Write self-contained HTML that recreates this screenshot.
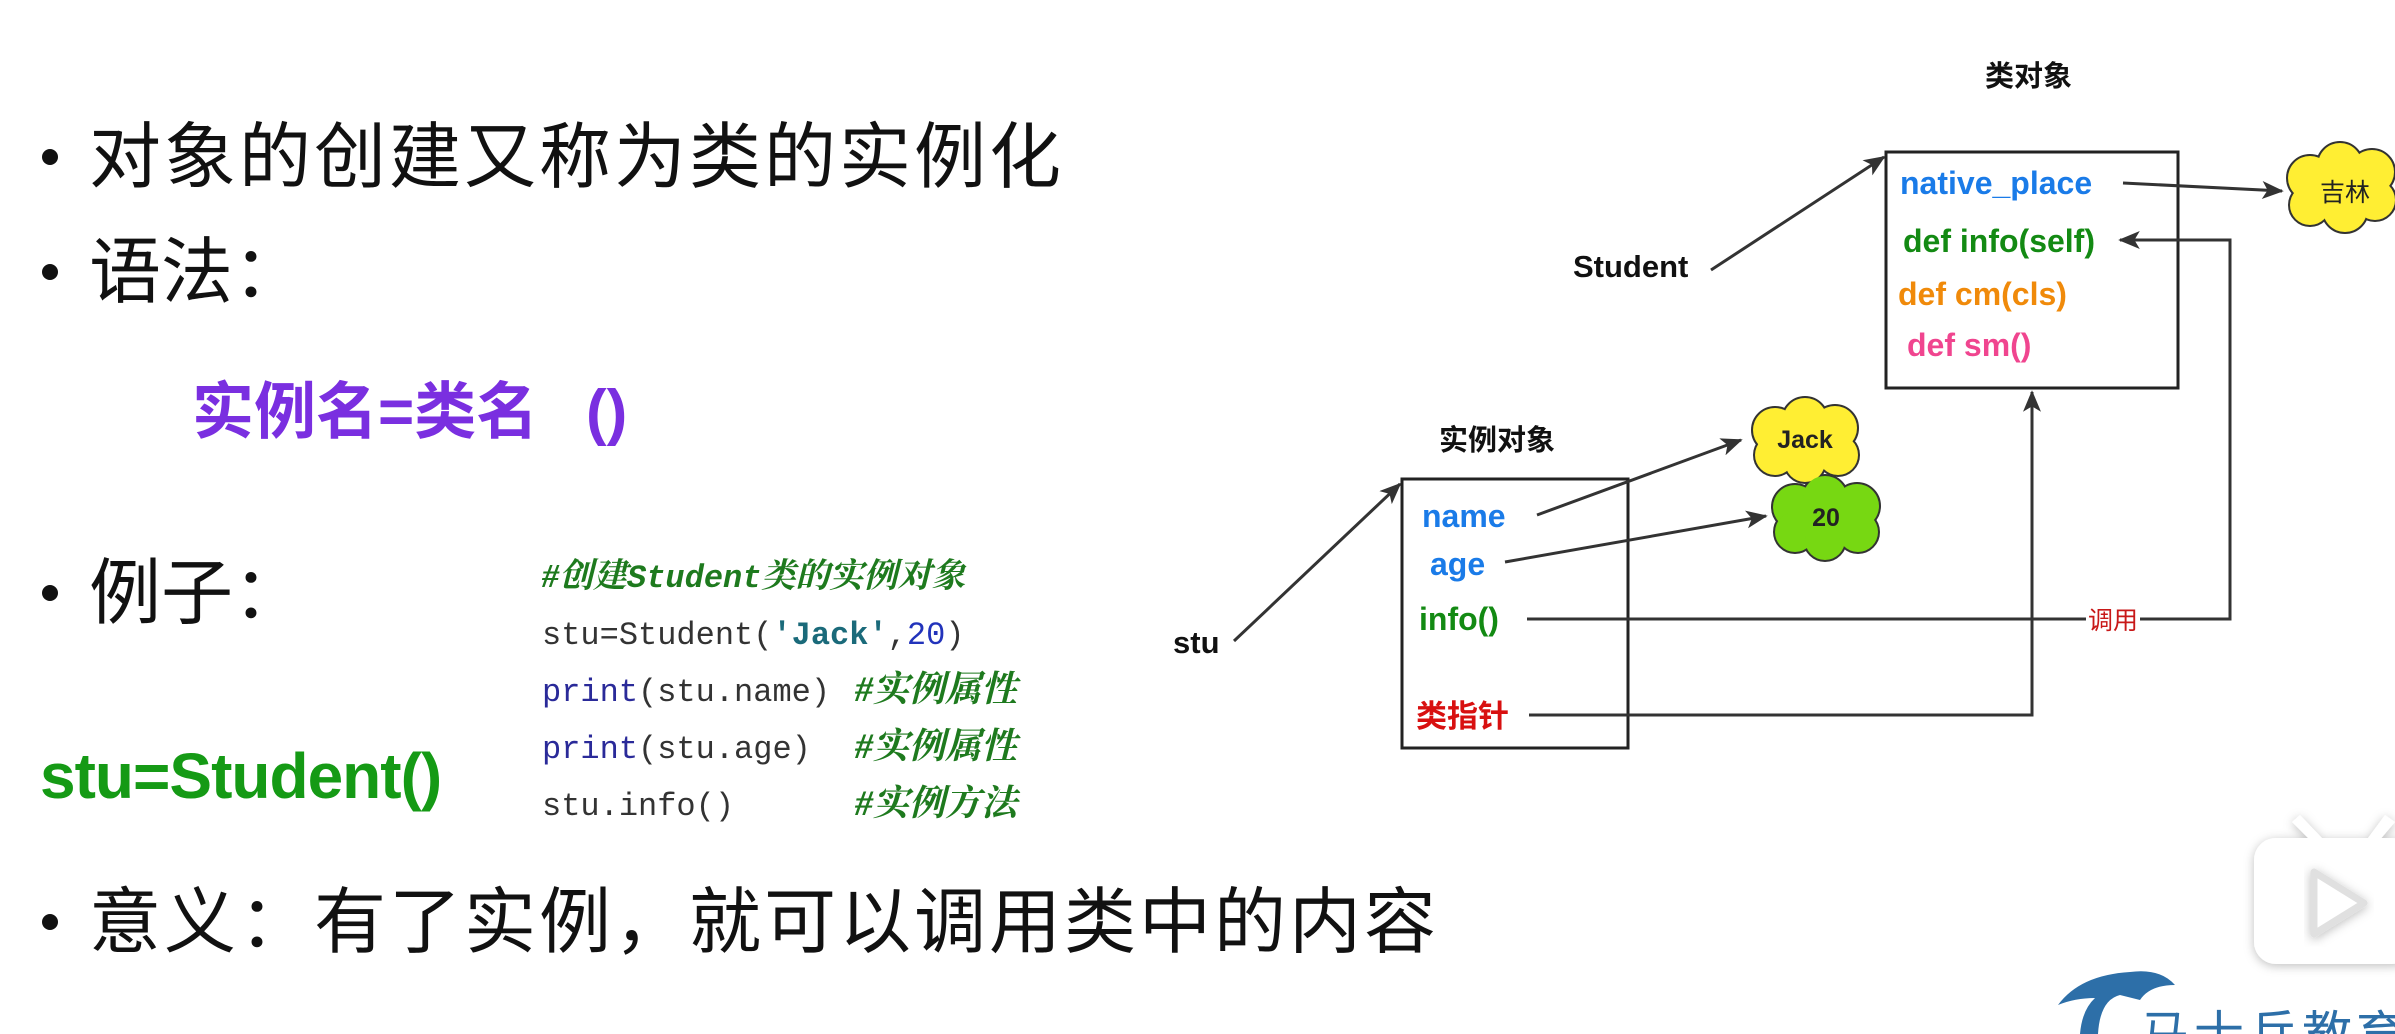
<!DOCTYPE html>
<html><head><meta charset="utf-8"><style>
html,body{margin:0;padding:0;background:#fff;}
svg{display:block;}
.cn{font-family:"Liberation Sans","Noto Sans CJK SC",sans-serif;}
.b{font-weight:bold;}
</style></head><body>
<svg width="2395" height="1034" viewBox="0 0 2395 1034" xmlns="http://www.w3.org/2000/svg">
<defs>
<marker id="a" viewBox="0 0 12 10" refX="11" refY="5" markerWidth="22" markerHeight="18" markerUnits="userSpaceOnUse" orient="auto"><path d="M0,0 L12,5 L0,10 L3,5 z" fill="#333"/></marker>
<filter id="sh" x="-20%" y="-20%" width="140%" height="140%"><feDropShadow dx="0" dy="2" stdDeviation="5" flood-color="#000" flood-opacity="0.25"/></filter>
</defs>

<!-- left text -->
<g class="cn" fill="#111">
<circle cx="50" cy="157" r="8"/>
<text x="89" y="182" font-size="72" letter-spacing="3">对象的创建又称为类的实例化</text>
<circle cx="50" cy="272" r="8"/>
<text x="89" y="297" font-size="72">语法：</text>
<circle cx="50" cy="593" r="8"/>
<text x="89" y="618" font-size="72">例子：</text>
<circle cx="50" cy="922" r="8"/>
<text x="89" y="947" font-size="72" letter-spacing="3">意义：有了实例，就可以调用类中的内容</text>
</g>
<text class="cn b" x="192" y="433" font-size="62" fill="#7a2fe0">实例名=类名</text>
<text class="cn b" x="586" y="433" font-size="62" fill="#7a2fe0">()</text>
<text class="cn b" x="40" y="798" font-size="64" fill="#159a15" letter-spacing="-1">stu=Student()</text>

<!-- code -->
<g font-family="'Liberation Mono','Noto Sans CJK SC',monospace" font-size="32">
<text x="542" y="587" fill="#1e7a1e" font-style="italic" font-weight="bold" font-size="34" font-family="'Liberation Serif','Noto Serif CJK SC',serif">#创建<tspan font-family="'Liberation Mono',monospace" font-size="32">Student</tspan>类的实例对象</text>
<text x="542" y="644" fill="#333" font-family="'Liberation Mono',monospace">stu=Student(<tspan fill="#1a6a7a" font-weight="bold">'Jack'</tspan>,<tspan fill="#2233bb">20</tspan>)</text>
<text x="542" y="701" fill="#333"><tspan fill="#2a2a99">print</tspan>(stu.name)</text>
<text x="855" y="701" fill="#1e7a1e" font-style="italic" font-weight="bold" font-size="36" font-family="'Liberation Serif','Noto Serif CJK SC',serif">#实例属性</text>
<text x="542" y="758" fill="#333"><tspan fill="#2a2a99">print</tspan>(stu.age)</text>
<text x="855" y="758" fill="#1e7a1e" font-style="italic" font-weight="bold" font-size="36" font-family="'Liberation Serif','Noto Serif CJK SC',serif">#实例属性</text>
<text x="542" y="815" fill="#333">stu.info()</text>
<text x="855" y="815" fill="#1e7a1e" font-style="italic" font-weight="bold" font-size="36" font-family="'Liberation Serif','Noto Serif CJK SC',serif">#实例方法</text>
</g>

<!-- diagram -->
<g class="cn b">
<text x="1985" y="86" font-size="29" fill="#111">类对象</text>
<rect x="1886" y="152" width="292" height="236" fill="none" stroke="#222" stroke-width="3"/>
<text x="1900" y="194" font-size="32" fill="#1a7be8">native_place</text>
<text x="1903" y="252" font-size="32" fill="#138a13">def info(self)</text>
<text x="1898" y="305" font-size="32" fill="#f08a0a">def cm(cls)</text>
<text x="1907" y="356" font-size="32" fill="#f0458f">def sm()</text>
<text x="1573" y="277" font-size="31" fill="#111">Student</text>
<text x="1439" y="450" font-size="29" fill="#111">实例对象</text>
<rect x="1402" y="479" width="226" height="269" fill="none" stroke="#222" stroke-width="3"/>
<text x="1422" y="527" font-size="32" fill="#1a7be8">name</text>
<text x="1430" y="575" font-size="32" fill="#1a7be8">age</text>
<text x="1419" y="630" font-size="32" fill="#138a13">info()</text>
<text x="1416" y="727" font-size="31" fill="#d81010">类指针</text>
<text x="1173" y="653" font-size="31" fill="#111">stu</text>
</g>

<!-- clouds -->
<g stroke="#333" stroke-width="4">
<g fill="#ffee33">
<circle cx="2310" cy="178" r="22"/><circle cx="2340" cy="165" r="22"/><circle cx="2372" cy="172" r="22"/><circle cx="2310" cy="205" r="20"/><circle cx="2345" cy="210" r="22"/><circle cx="2375" cy="200" r="20"/>
<circle cx="1775" cy="430" r="22"/><circle cx="1805" cy="420" r="22"/><circle cx="1835" cy="428" r="22"/><circle cx="1775" cy="455" r="20"/><circle cx="1805" cy="462" r="20"/><circle cx="1838" cy="455" r="20"/>
</g>
<g fill="#77d812">
<circle cx="1795" cy="507" r="22"/><circle cx="1825" cy="498" r="22"/><circle cx="1857" cy="506" r="22"/><circle cx="1795" cy="532" r="20"/><circle cx="1825" cy="540" r="20"/><circle cx="1858" cy="532" r="20"/>
</g>
</g>
<g stroke="none">
<g fill="#ffee33">
<circle cx="2310" cy="178" r="22"/><circle cx="2340" cy="165" r="22"/><circle cx="2372" cy="172" r="22"/><circle cx="2310" cy="205" r="20"/><circle cx="2345" cy="210" r="22"/><circle cx="2375" cy="200" r="20"/><rect x="2305" y="170" width="72" height="40"/>
<circle cx="1775" cy="430" r="22"/><circle cx="1805" cy="420" r="22"/><circle cx="1835" cy="428" r="22"/><circle cx="1775" cy="455" r="20"/><circle cx="1805" cy="462" r="20"/><circle cx="1838" cy="455" r="20"/><rect x="1770" y="425" width="70" height="35"/>
</g>
<g fill="#77d812">
<circle cx="1795" cy="507" r="22"/><circle cx="1825" cy="498" r="22"/><circle cx="1857" cy="506" r="22"/><circle cx="1795" cy="532" r="20"/><circle cx="1825" cy="540" r="20"/><circle cx="1858" cy="532" r="20"/><rect x="1790" y="500" width="70" height="35"/>
</g>
</g>
<g class="cn" font-size="25" fill="#222" text-anchor="middle">
<text x="2345" y="201">吉林</text>
<text x="1805" y="448" class="b">Jack</text>
<text x="1826" y="526" class="b">20</text>
</g>

<!-- arrows -->
<g stroke="#333" stroke-width="3" fill="none" marker-end="url(#a)">
<path d="M2123,183 L2282,191"/>
<path d="M1711,270 L1884,157"/>
<path d="M1234,641 L1400,484"/>
<path d="M1537,515 L1741,440"/>
<path d="M1505,562 L1766,516"/>
<path d="M1527,619 L2230,619 L2230,240 L2120,240"/>
<path d="M1529,715 L2032,715 L2032,392"/>
</g>
<rect x="2086" y="604" width="54" height="30" fill="#fff"/>
<text class="cn" x="2088" y="629" font-size="25" fill="#c81818">调用</text>

<!-- bilibili icon -->
<g filter="url(#sh)" fill="#fff">
<rect x="2254" y="838" width="160" height="126" rx="22"/>
<path d="M2300,815 L2322,838 L2312,842 L2292,822 z"/>
<path d="M2385,815 L2368,838 L2378,842 L2395,822 z"/>
</g>
<path d="M2314,872 L2364,903 L2314,934 z" fill="#fff" stroke="#e0e0e0" stroke-width="7" stroke-linejoin="round" filter="url(#sh)"/>
<text class="cn" x="2140" y="1052" font-size="50" fill="#2d6fa8" letter-spacing="4">马士兵教育</text>
<path d="M2058,1005 Q2080,975 2130,972 Q2160,968 2175,985 Q2150,985 2140,1000 L2120,995 Q2100,1000 2098,1034 L2080,1034 Q2082,1010 2095,998 Q2075,998 2058,1005 z" fill="#2d6fa8"/>
</svg>
</body></html>
